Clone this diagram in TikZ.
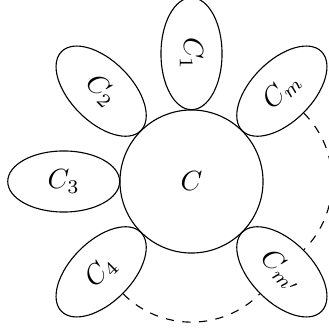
\documentclass[tikz,border=0pt]{standalone}
\usetikzlibrary{shapes.geometric}
\begin{document}
\begin{tikzpicture}[
  petal/.style={draw, ellipse, inner sep=0pt, minimum width=40.3pt, minimum height=22pt},
  hub/.style={draw, circle, inner sep=0pt, minimum size=51.5pt},
  link/.style={dashed}
]
\useasboundingbox (-68.94pt,-54.18pt) rectangle (49.14pt,65.34pt);
\node[hub] (c) at (0,0) {$C$};
\node[petal, rotate=-90] (c1) at (90:46pt) {$C_1$};
\node[petal, rotate=-45] (c2) at (135:46pt) {$C_2$};
\node[petal] (c3) at (180:46pt) {$C_3$};
\node[petal, rotate=45] (c4) at (225:46pt) {$C_4$};
\node[petal, rotate=45] (cm) at (45:46pt) {$C_m$};
\node[petal, rotate=-45] (cmp) at (-45:46pt) {$C_{m'}$};
\draw[link] (cm.south) to[bend left=45] (cmp.north);
\draw[link] (c4.south) to[bend right=45] (cmp.south);
\end{tikzpicture}
\end{document}
